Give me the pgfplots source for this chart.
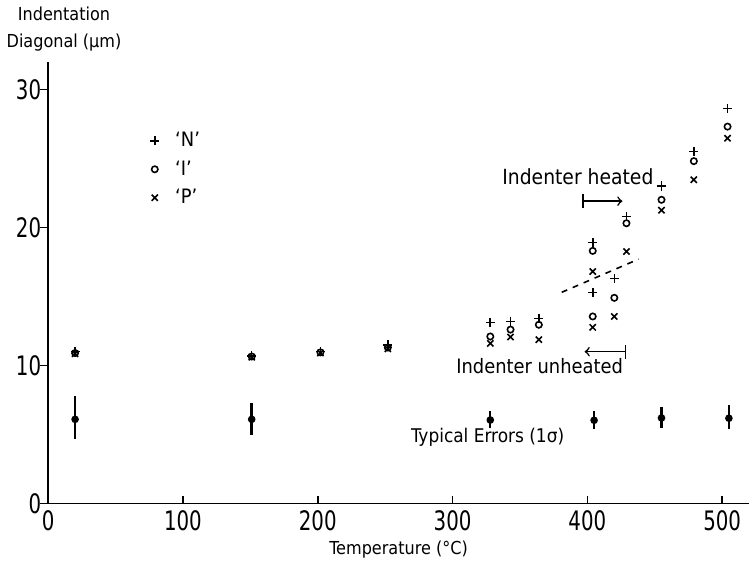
\documentclass[border=0pt]{standalone}
\usepackage{fontspec}
\setmainfont{DejaVu Sans Condensed}
\newfontfamily\tickfont[FakeStretch=0.82]{DejaVu Sans Condensed}
\usepackage{pgfplots}
\pgfplotsset{compat=1.18}

\begin{document}
\begin{tikzpicture}
\begin{axis}[
  scale only axis, width=353pt, height=222.5pt,
  xmin=0, xmax=520, ymin=0, ymax=32,
  axis lines=left, axis line style={-, line width=0.9pt},
  xtick={0,100,...,500}, ytick={0,10,20,30},
  tick align=inside, major tick length=4pt,
  tick style={line width=0.8pt, black},
  y tick style={xshift=-4pt},
  tick label style={font=\tickfont\fontsize{13.5}{14}\selectfont},
  /pgf/number format/assume math mode=true,
  xlabel={Temperature (°C)},
  xlabel style={font=\fontsize{9}{11}\selectfont, yshift=2pt},
  clip=false,
  legend style={at={(axis cs:71,27.5)}, anchor=north west, draw=none, fill=none,
    font=\fontsize{10}{12}\selectfont, row sep=1.5pt,
    /tikz/every odd column/.append style={column sep=6pt}},
  legend cell align=left,
]
% 'N' series
\addplot[only marks, mark=+, mark size=2.3pt, line width=0.8pt] coordinates {
  (20,11.0) (151,10.7) (202,11.0) (252,11.5) (328,13.1) (343,13.2) (364,13.4)
  (404,18.9) (404,15.3) (420,16.3) (429,20.8) (455,23.0) (479,25.5) (504,28.6)};
\addlegendentry{`N'}
% 'I' series
\addplot[only marks, mark=o, mark size=1.6pt, line width=0.8pt] coordinates {
  (20,10.9) (151,10.65) (202,10.95) (252,11.3) (328,12.1) (343,12.6) (364,12.95)
  (404,18.3) (404,13.55) (420,14.9) (429,20.3) (455,22.0) (479,24.8) (504,27.3)};
\addlegendentry{`I'}
% 'P' series
\addplot[only marks, mark=x, mark size=2.2pt, line width=0.8pt] coordinates {
  (20,10.85) (151,10.6) (202,10.9) (252,11.2) (328,11.6) (343,12.06) (364,11.87)
  (404,16.8) (404,12.76) (420,13.55) (429,18.25) (455,21.25) (479,23.45) (504,26.46)};
\addlegendentry{`P'}
% typical errors
\addplot[forget plot, only marks, mark=*, mark size=1.5pt, line width=0.8pt,
  error bars/.cd, y dir=both, y explicit, error mark=none,
  error bar style={line width=1.2pt}] coordinates {
  (20,6.1) += (0,1.7) -= (0,1.45)
  (151,6.1) += (0,1.2) -= (0,1.1)
  (328,6.05) += (0,0.65) -= (0,0.6)
  (405,6.03) += (0,0.7) -= (0,0.6)
  (455,6.2) += (0,0.8) -= (0,0.75)
  (505,6.18) += (0,0.95) -= (0,0.8)};
% heated / unheated boundary
\addplot[forget plot, dashed, line width=0.8pt, dash pattern=on 3pt off 3pt] coordinates {(381,15.3) (438,17.7)};
\addplot[forget plot, |->, line width=0.8pt] coordinates {(396,21.9) (426,21.9)};
\addplot[forget plot, |->, line width=0.8pt] coordinates {(429,11.0) (398,11.0)};
\node[font=\fontsize{10.5}{12}\selectfont] at (axis cs:393,23.65) {Indenter heated};
\node[font=\fontsize{10}{12}\selectfont] at (axis cs:364.6,9.95) {Indenter unheated};
\node[font=\fontsize{9.5}{11}\selectfont] at (axis cs:326,4.8) {Typical Errors (1σ)};
\node[anchor=south, align=center, font=\fontsize{9}{13.5}\selectfont, xshift=8pt, yshift=2pt]
  at (rel axis cs:0,1) {Indentation\\Diagonal (µm)};
\end{axis}
\end{tikzpicture}
\end{document}
